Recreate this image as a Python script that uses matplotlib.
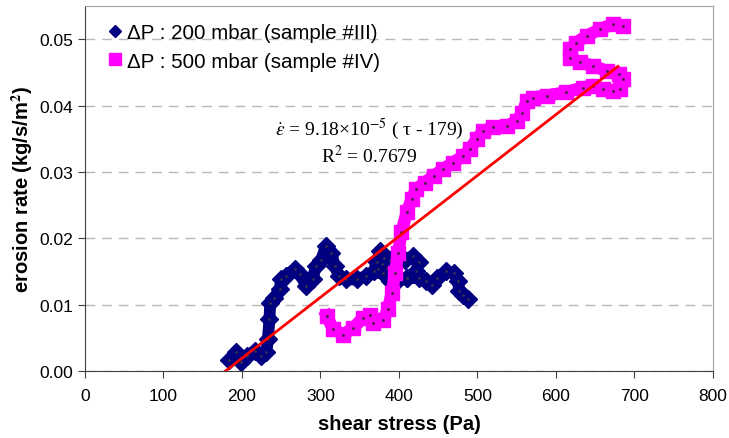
import matplotlib.pyplot as plt
from matplotlib.lines import Line2D

plt.rcParams['font.family'] = ['Liberation Sans', 'DejaVu Sans']
plt.rcParams['mathtext.fontset'] = 'stix'

# sample #III (200 mbar)
bx = [184, 192, 199, 207, 216, 224, 231, 233, 235, 236, 241, 248, 250, 256, 267,
      274, 282, 290, 294, 301, 307, 314, 318, 324, 333, 346, 358, 368, 372, 376,
      381, 385, 380, 373, 378, 388, 398, 408, 418, 425, 422, 410, 398, 388, 395,
      410, 425, 435, 442, 448, 460, 470, 475, 477, 482, 488]
by = [0.0016, 0.0028, 0.0013, 0.0023, 0.0030, 0.0023, 0.0028, 0.0048, 0.0078, 0.0103,
      0.0110, 0.0123, 0.0138, 0.0143, 0.0153, 0.0146, 0.0128, 0.0138, 0.0158, 0.0168,
      0.0188, 0.0178, 0.0158, 0.0143, 0.0138, 0.0138, 0.0143, 0.0150, 0.0165, 0.0181,
      0.0170, 0.0155, 0.0148, 0.0153, 0.0162, 0.0168, 0.0170, 0.0168, 0.0173, 0.0165,
      0.0150, 0.0140, 0.0135, 0.0135, 0.0138, 0.0140, 0.0140, 0.0135, 0.0130, 0.0140,
      0.0150, 0.0148, 0.0135, 0.0121, 0.0115, 0.0108]

# sample #IV (500 mbar)
mx = [308, 316, 329, 342, 354, 363, 367, 380, 386, 391, 395, 399, 403, 410, 416,
      422, 433, 444, 456, 469, 482, 490, 499, 507, 520, 537, 550, 557, 563, 571,
      588, 613, 634, 647, 660, 673, 681, 686, 680, 665, 647, 631, 618, 618, 626,
      639, 656, 673, 686]
my = [0.0083, 0.0063, 0.0055, 0.0065, 0.0080, 0.0085, 0.0073, 0.0077, 0.0093, 0.0118,
      0.0148, 0.0178, 0.0209, 0.0239, 0.0259, 0.0274, 0.0284, 0.0294, 0.0304, 0.0314,
      0.0324, 0.0334, 0.0349, 0.0362, 0.0367, 0.0369, 0.0377, 0.0389, 0.0407, 0.0412,
      0.0415, 0.0420, 0.0427, 0.0430, 0.0425, 0.0422, 0.0425, 0.0440, 0.0447, 0.0452,
      0.0460, 0.0465, 0.0472, 0.0485, 0.0495, 0.0505, 0.0515, 0.0523, 0.0520]

# linear fit end points
fit_x = [179, 679]
fit_y = [0.0, 0.0459]

fig = plt.figure(figsize=(7.29, 4.39), dpi=100)
ax = fig.add_axes([0.1166, 0.1526, 0.8614, 0.8314])

ax.plot(bx, by, '-D', color='#000080', lw=8.5, ms=9.5, solid_joinstyle='round')
ax.plot(bx, by, '.', color='#303050', ms=2)
ax.plot(mx, my, '-s', color='#ff00ff', lw=9, ms=10, solid_joinstyle='round')
ax.plot(mx, my, '.', color='#402040', ms=2)
ax.plot(fit_x, fit_y, '-', color='#ff0000', lw=2)

ax.set_xlim(0, 800)
ax.set_ylim(0, 0.055)
ax.set_xticks(range(0, 801, 100))
ax.set_yticks([0, 0.01, 0.02, 0.03, 0.04, 0.05])
ax.set_yticklabels(['0.00', '0.01', '0.02', '0.03', '0.04', '0.05'])
ax.tick_params(labelsize=12.5, length=5, color='#404040')
ax.tick_params(axis='x', pad=7)
ax.yaxis.grid(True, ls=(0, (7, 5)), color='#b8b8b8', lw=1)
ax.set_axisbelow(True)
for s in ['top', 'right']:
    ax.spines[s].set_color('#a0a0a0')
for s in ['left', 'bottom']:
    ax.spines[s].set_color('#404040')

ax.set_xlabel('shear stress (Pa)', fontsize=14.5, fontweight='bold', labelpad=8)
ax.set_ylabel('erosion rate (kg/s/m$^\\mathbf{2}$)', fontsize=14.5, fontweight='bold', labelpad=3)

ax.text(362, 0.0366, '$\\dot{\\epsilon}$ = 9.18×10$^{-5}$ ( τ - 179)', fontsize=14,
        family='Liberation Serif', ha='center', va='center')
ax.text(362, 0.0325, 'R$^{2}$ = 0.7679', fontsize=14,
        family='Liberation Serif', ha='center', va='center')

h = [Line2D([], [], ls='none', marker='D', color='#000080', ms=6),
     Line2D([], [], ls='none', marker='s', color='#ff00ff', ms=8)]
ax.legend(h, ['ΔP : 200 mbar (sample #III)', 'ΔP : 500 mbar (sample #IV)'],
          loc='upper left', bbox_to_anchor=(0.025, 0.975), frameon=False,
          fontsize=14.8, handlelength=0.6, handletextpad=0.3, labelspacing=0.45,
          borderaxespad=0)

plt.savefig('out.png', dpi=100)
